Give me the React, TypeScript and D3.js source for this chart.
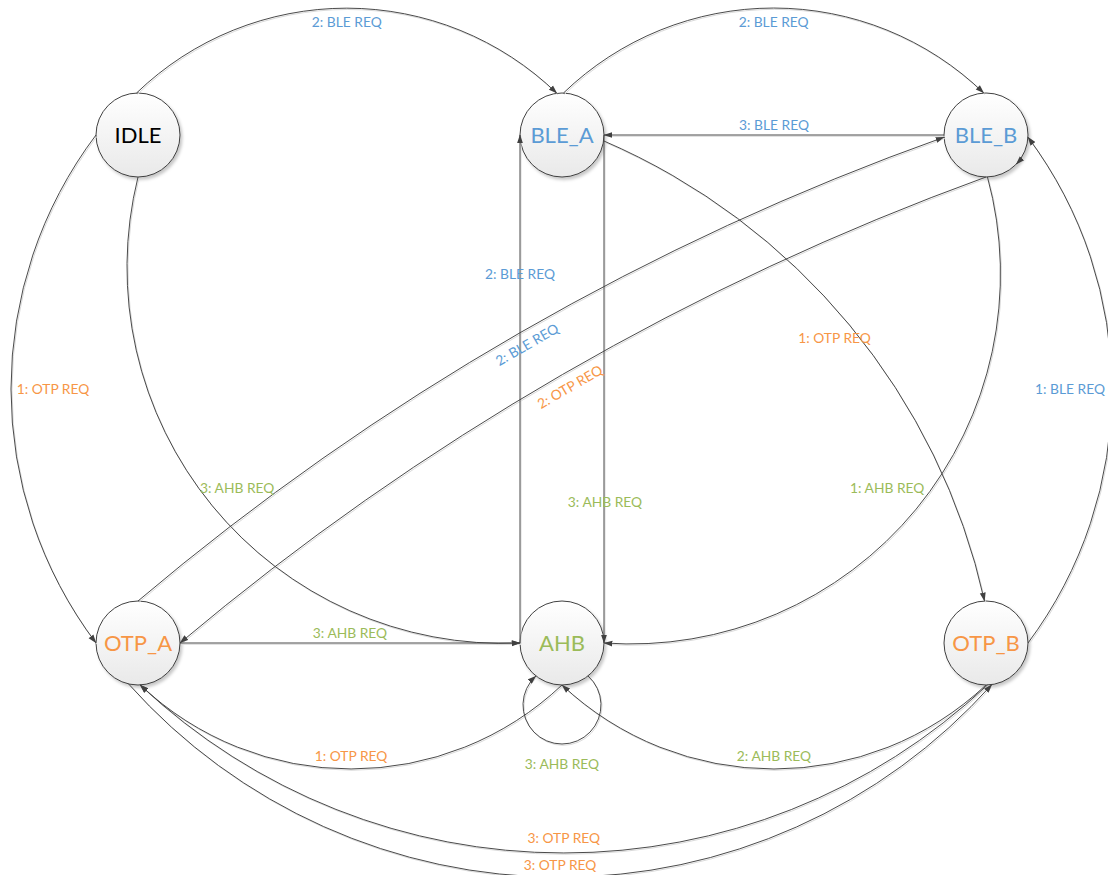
import React, { useEffect, useRef } from "react";
import * as d3 from "d3";

const W = 1108;
const H = 875;

// states of the controller
const stateNames = ["IDLE", "BLE_A", "BLE_B", "OTP_A", "AHB", "OTP_B"];
const stateGroups = ["idle", "ble", "ble", "otp", "ahb", "otp"];
const stateCols = [0, 1, 2, 0, 1, 2];
const stateRows = [0, 0, 0, 1, 1, 1];

// transitions: from, to, label
const transitions: [string, string, string][] = [
  ["IDLE", "BLE_A", "2: BLE REQ"],
  ["BLE_A", "BLE_B", "2: BLE REQ"],
  ["BLE_B", "BLE_A", "3: BLE REQ"],
  ["OTP_A", "BLE_B", "2: BLE REQ"],
  ["BLE_B", "OTP_A", "2: OTP REQ"],
  ["BLE_A", "OTP_B", "1: OTP REQ"],
  ["BLE_B", "AHB", "1: AHB REQ"],
  ["OTP_B", "BLE_B", "1: BLE REQ"],
  ["IDLE", "OTP_A", "1: OTP REQ"],
  ["IDLE", "AHB", "3: AHB REQ"],
  ["OTP_A", "AHB", "3: AHB REQ"],
  ["AHB", "BLE_A", "2: BLE REQ"],
  ["BLE_A", "AHB", "3: AHB REQ"],
  ["AHB", "AHB", "3: AHB REQ"],
  ["AHB", "OTP_A", "1: OTP REQ"],
  ["OTP_B", "AHB", "2: AHB REQ"],
  ["OTP_B", "OTP_A", "3: OTP REQ"],
  ["OTP_A", "OTP_B", "3: OTP REQ"],
];

// connector routing (same order as transitions): port angles, bend (sagitta), label placement
const routing = [
  { out: -92, inn: -97, bend: 85, t: 0.5, dx: 0, dy: 14 },
  { out: -88, inn: -93, bend: 85, t: 0.5, dx: 0, dy: 14 },
  { out: 180, inn: 0, bend: 0, t: 0.5, dx: 0, dy: -10 },
  { out: -90, inn: 177, bend: 42, t: 0.5, dx: 7, dy: 12, rotate: true },
  { out: 90, inn: 0, bend: -41, t: 0.5, dx: 7.5, dy: 12.5, rotate: true },
  { out: 8, inn: -92, bend: 72, t: 0.5, dx: -15, dy: 13 },
  { out: 88, inn: 0, bend: 156, t: 0.5, dx: -29, dy: -21 },
  { out: 0, inn: 3, bend: -84, t: 0.5, dx: -42, dy: -1 },
  { out: 180, inn: 180, bend: -85, t: 0.5, dx: 42, dy: 0 },
  { out: 90, inn: 180, bend: -151, t: 0.5, dx: 25, dy: -18 },
  { out: 0, inn: 180, bend: 0, t: 0.5, dx: 0, dy: -10 },
  { out: 180, inn: 180, bend: 0, t: 0.727, dx: 0, dy: 0 },
  { out: 0, inn: 0, bend: 0, t: 0.722, dx: 1, dy: 0 },
  { loop: true, dir: 90, dist: 62, r: 39, dy: 20 },
  { out: 90, inn: 87, bend: 84, t: 0.5, dx: 0, dy: -13 },
  { out: 90, inn: 90, bend: 84, t: 0.5, dx: 0, dy: -13 },
  { out: 88, inn: 87, bend: 168, t: 0.5, dx: 0, dy: -15 },
  { out: 103, inn: 82, bend: -193, t: 0.5, dx: 0, dy: -12 },
];

const GROUP_COLOR: Record<string, string> = {
  idle: "#000000",
  ble: "#5b9bd5",
  otp: "#f79646",
  ahb: "#9bbb59",
};

const FONT = "Lato, 'Open Sans', sans-serif";
const NODE_R = 42;
const TAU = Math.PI * 2;
const rad = (d: number) => (d * Math.PI) / 180;
const mod = (v: number) => ((v % TAU) + TAU) % TAU;

type Geom = {
  d: string;
  at: (t: number) => [number, number];
  angle: (t: number) => number;
};

function labelColor(label: string) {
  if (label.includes("BLE")) return GROUP_COLOR.ble;
  if (label.includes("OTP")) return GROUP_COLOR.otp;
  return GROUP_COLOR.ahb;
}

function connector(p0: [number, number], p1: [number, number], s: number): Geom {
  const dx = p1[0] - p0[0], dy = p1[1] - p0[1];
  const len = Math.hypot(dx, dy);
  if (s === 0) {
    const p = d3.path();
    p.moveTo(p0[0], p0[1]);
    p.lineTo(p1[0], p1[1]);
    return {
      d: p.toString(),
      at: (t) => [p0[0] + dx * t, p0[1] + dy * t],
      angle: () => Math.atan2(dy, dx),
    };
  }
  const nx = dy / len, ny = -dx / len;
  const mx = (p0[0] + p1[0]) / 2, my = (p0[1] + p1[1]) / 2;
  const h = len / 2;
  const r = (h * h + s * s) / (2 * Math.abs(s));
  const off = s - Math.sign(s) * r;
  const cx = mx + off * nx, cy = my + off * ny;
  const a0 = Math.atan2(p0[1] - cy, p0[0] - cx);
  const a1 = Math.atan2(p1[1] - cy, p1[0] - cx);
  const ap = Math.atan2(my + s * ny - cy, mx + s * nx - cx);
  const cw = mod(ap - a0) < mod(a1 - a0);
  const sweep = cw ? mod(a1 - a0) : -mod(a0 - a1);
  const p = d3.path();
  p.arc(cx, cy, r, a0, a0 + sweep, !cw);
  return {
    d: p.toString(),
    at: (t) => {
      const a = a0 + sweep * t;
      return [cx + r * Math.cos(a), cy + r * Math.sin(a)];
    },
    angle: (t) => {
      const a = a0 + sweep * t;
      return cw ? Math.atan2(Math.cos(a), -Math.sin(a)) : Math.atan2(-Math.cos(a), Math.sin(a));
    },
  };
}

function buildDiagram(el: SVGSVGElement) {
  const svg = d3.select(el);
  svg.selectAll("*").remove();

  const x = d3.scalePoint<number>().domain([0, 1, 2]).range([138, 986]);
  const y = d3.scalePoint<number>().domain([0, 1]).range([135, 643]);

  const nodes = stateNames.map((name, i) => ({
    name,
    group: stateGroups[i],
    x: x(stateCols[i]) as number,
    y: y(stateRows[i]) as number,
  }));
  const byName = new Map(nodes.map((n) => [n.name, n]));
  const port = (name: string, deg: number): [number, number] => {
    const n = byName.get(name)!;
    return [n.x + NODE_R * Math.cos(rad(deg)), n.y + NODE_R * Math.sin(rad(deg))];
  };

  const defs = svg.append("defs");
  defs.append("marker")
    .attr("id", "arrow")
    .attr("viewBox", "0 0 10 8")
    .attr("refX", 9.5)
    .attr("refY", 4)
    .attr("markerUnits", "userSpaceOnUse")
    .attr("markerWidth", 9)
    .attr("markerHeight", 7)
    .attr("orient", "auto")
    .append("path")
    .attr("d", "M0,0.6 L10,4 L0,7.4 Z")
    .attr("fill", "#404040");

  const grad = defs.append("linearGradient")
    .attr("id", "nodeFill")
    .attr("x1", 0).attr("y1", 0).attr("x2", 0).attr("y2", 1);
  grad.append("stop").attr("offset", "0%").attr("stop-color", "#ffffff");
  grad.append("stop").attr("offset", "100%").attr("stop-color", "#e9e9e9");

  const shadow = defs.append("filter")
    .attr("id", "nodeShadow")
    .attr("x", "-30%").attr("y", "-30%").attr("width", "160%").attr("height", "160%");
  shadow.append("feDropShadow")
    .attr("dx", 2).attr("dy", 2.5).attr("stdDeviation", 1.4)
    .attr("flood-color", "#000").attr("flood-opacity", 0.22);

  svg.append("rect").attr("width", W).attr("height", H).attr("fill", "#fff");

  // nodes
  const gNodes = svg.append("g");
  const node = gNodes.selectAll("g").data(nodes).join("g")
    .attr("transform", (d) => `translate(${d.x},${d.y})`);
  node.append("circle")
    .attr("r", NODE_R)
    .attr("fill", "url(#nodeFill)")
    .attr("stroke", "#404040")
    .attr("stroke-width", 1)
    .attr("filter", "url(#nodeShadow)");
  node.append("text")
    .attr("text-anchor", "middle")
    .attr("dy", "0.36em")
    .attr("font-family", FONT)
    .attr("font-size", 22)
    .attr("fill", (d) => GROUP_COLOR[d.group])
    .text((d) => d.name);

  // connectors
  const edges = transitions.map(([from, to, label], i) => {
    const rt: any = routing[i];
    let g: Geom;
    let lx: number, ly: number, rot = 0;
    if (rt.loop) {
      const n = byName.get(from)!;
      const ux = Math.cos(rad(rt.dir)), uy = Math.sin(rad(rt.dir));
      const cx = n.x + ux * rt.dist, cy = n.y + uy * rt.dist;
      const a = (rt.dist * rt.dist + NODE_R * NODE_R - rt.r * rt.r) / (2 * rt.dist);
      const hh = Math.sqrt(NODE_R * NODE_R - a * a);
      const ix = n.x + ux * a, iy = n.y + uy * a;
      // start on the counter-clockwise side of the axis, run round the far side, end on the other
      const pStart: [number, number] = [ix + uy * hh, iy - ux * hh];
      const pEnd: [number, number] = [ix - uy * hh, iy + ux * hh];
      const a0 = Math.atan2(pStart[1] - cy, pStart[0] - cx);
      const a1 = Math.atan2(pEnd[1] - cy, pEnd[0] - cx);
      const p = d3.path();
      p.arc(cx, cy, rt.r, a0, a0 + mod(a1 - a0), false);
      g = { d: p.toString(), at: () => [cx, cy], angle: () => 0 };
      lx = cx + ux * rt.r;
      ly = cy + uy * rt.r + rt.dy;
    } else {
      g = connector(port(from, rt.out), port(to, rt.inn), rt.bend);
      const [px, py] = g.at(rt.t);
      lx = px + rt.dx;
      ly = py + rt.dy;
      if (rt.rotate) {
        rot = (g.angle(rt.t) * 180) / Math.PI;
        if (rot > 90) rot -= 180;
        if (rot < -90) rot += 180;
      }
    }
    return { from, to, label, d: g.d, lx, ly, rot };
  });

  const gEdges = svg.append("g").attr("fill", "none");
  gEdges.selectAll("path.shadow").data(edges).join("path")
    .attr("class", "shadow")
    .attr("d", (d) => d.d)
    .attr("transform", "translate(1,1.3)")
    .attr("stroke", "#dadada")
    .attr("stroke-width", 1);
  gEdges.selectAll("path.edge").data(edges).join("path")
    .attr("class", "edge")
    .attr("d", (d) => d.d)
    .attr("stroke", "#404040")
    .attr("stroke-width", 0.95)
    .attr("marker-end", "url(#arrow)");

  // stray arrow tip sitting on BLE_B
  const stubAngle = rad(44);
  const tip = port("BLE_B", 44);
  const stub = d3.path();
  stub.moveTo(tip[0] + Math.sin(stubAngle) * 2, tip[1] - Math.cos(stubAngle) * 2);
  stub.lineTo(tip[0], tip[1]);
  gEdges.append("path")
    .attr("d", stub.toString())
    .attr("stroke", "#404040")
    .attr("stroke-width", 0.95)
    .attr("marker-end", "url(#arrow)");

  // labels
  svg.append("g").selectAll("text").data(edges).join("text")
    .attr("transform", (d) => `translate(${d.lx},${d.ly}) rotate(${d.rot})`)
    .attr("text-anchor", "middle")
    .attr("dy", "0.35em")
    .attr("font-family", FONT)
    .attr("font-size", 13.8)
    .attr("fill", (d) => labelColor(d.label))
    .text((d) => d.label);
}

export default function App() {
  const ref = useRef<SVGSVGElement>(null);

  useEffect(() => {
    if (ref.current) buildDiagram(ref.current);
  }, []);

  return (
    <div style={{ position: "fixed", left: 0, top: 0, width: W, height: H, overflow: "hidden", background: "#fff" }}>
      <svg ref={ref} width={W} height={H} style={{ display: "block" }} />
    </div>
  );
}
